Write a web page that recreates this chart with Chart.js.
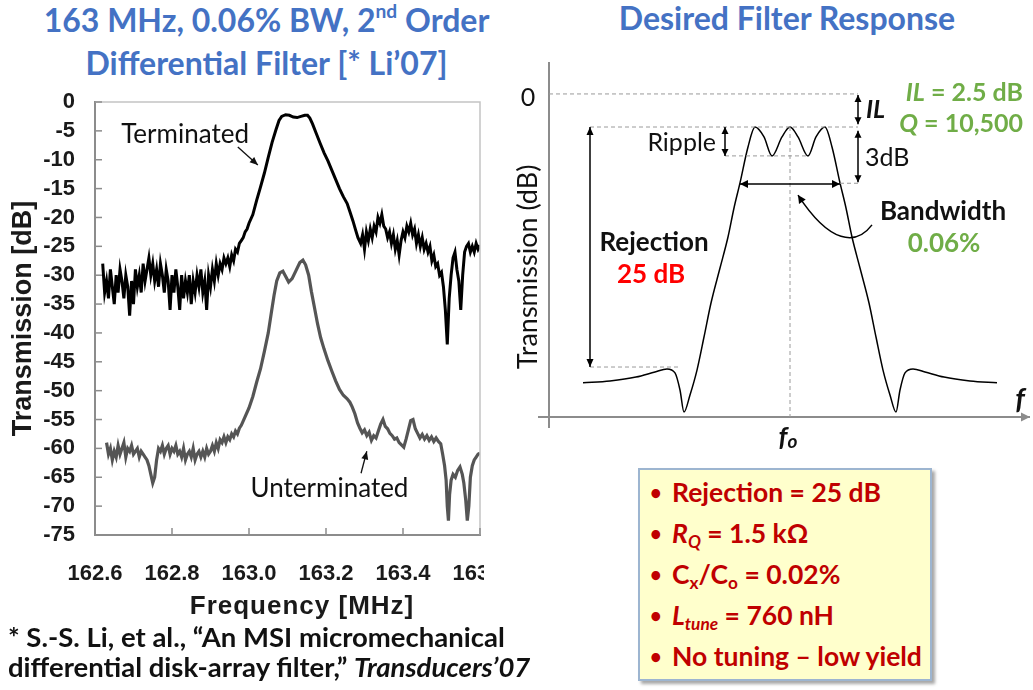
<!DOCTYPE html>
<html>
<head>
<meta charset="utf-8">
<script src="https://cdn.jsdelivr.net/npm/chart.js@4.4.1/dist/chart.umd.min.js"></script>
<style>
  html, body { margin: 0; padding: 0; background: #fff; }
  body { width: 1033px; height: 690px; position: relative; overflow: hidden; font-family: Lato, "Open Sans", sans-serif; }
  .title { position: absolute; color: #4472C4; font-weight: 700; font-size: 32px; line-height: 43px; text-align: center; white-space: nowrap; }
  .title sup { font-size: 60%; line-height: 0; vertical-align: baseline; position: relative; top: -0.75em; }
  #leftTitle { left: 0; top: -2px; width: 533px; }
  #rightTitle { left: 541px; top: -4px; width: 492px; }
  #measWrap { position: absolute; left: 0; top: 80px; width: 484px; height: 545px; }
  #respWrap { position: absolute; left: 500px; top: 40px; width: 533px; height: 420px; }
  #freqTitle { position: absolute; left: 152px; width: 300px; top: 590px; text-align: center; font: bold 26px "Liberation Sans", Arial, sans-serif; letter-spacing: 1px; color: #1a1a1a; }
  #footnote { position: absolute; left: 8px; top: 622px; font-weight: 700; font-size: 27.5px; line-height: 30px; color: #111; white-space: nowrap; }
  #specBox { position: absolute; left: 638px; top: 468px; width: 294px; height: 213px; background: #FFFFCC; border: 2px solid #9DB5D0; box-shadow: 3px 3px 3px rgba(0,0,0,0.35); padding: 2px 0 0 10px; box-sizing: border-box; color: #C00000; font-weight: 700; font-size: 26.5px; line-height: 41px; white-space: nowrap; }
  #specBox .dot { display: inline-block; width: 22px; font-size: 20px; vertical-align: 2px; }
  #specBox sub { font-size: 65%; line-height: 0; vertical-align: baseline; position: relative; top: 0.3em; }
</style>
</head>
<body>
<div id="leftTitle" class="title">163 MHz, 0.06% BW, 2<sup>nd</sup> Order<br>Differential Filter [* Li’07]</div>
<div id="rightTitle" class="title">Desired Filter Response</div>

<div id="measWrap"><canvas id="measChart" width="484" height="545"></canvas></div>
<div id="freqTitle">Frequency [MHz]</div>
<div id="respWrap"><canvas id="respChart" width="533" height="420"></canvas></div>

<div id="footnote">* S.-S. Li, et al., “An MSI micromechanical<br>differential disk-array filter,” <i>Transducers’07</i></div>

<div id="specBox">
  <div><span class="dot">•</span>Rejection = 25 dB</div>
  <div><span class="dot">•</span><i>R<sub>Q</sub></i> = 1.5 kΩ</div>
  <div><span class="dot">•</span>C<sub>x</sub>/C<sub>o</sub> = 0.02%</div>
  <div><span class="dot">•</span><i>L<sub>tune</sub></i> = 760 nH</div>
  <div><span class="dot">•</span>No tuning – low yield</div>
</div>

<script>
// measured transmission, [frequency MHz, dB]
const terminated = [
  [162.620,-28],[162.625,-33],[162.630,-31],[162.635,-34],[162.640,-29],[162.645,-32],[162.650,-35],[162.655,-30],
  [162.660,-33],[162.665,-29],[162.670,-31],[162.675,-34],[162.680,-30],[162.685,-32],[162.690,-37],[162.695,-31],
  [162.700,-35],[162.705,-29],[162.710,-32],[162.715,-30],[162.720,-33],[162.725,-28],[162.730,-31],[162.735,-29],
  [162.740,-27],[162.745,-30],[162.750,-28],[162.755,-31],[162.760,-29],[162.765,-32],[162.770,-28],[162.775,-30],
  [162.780,-33],[162.785,-29],[162.790,-31],[162.795,-36],[162.800,-30],[162.805,-33],[162.810,-29],[162.815,-32],
  [162.820,-36],[162.825,-30],[162.830,-34],[162.835,-31],[162.840,-33],[162.845,-30],[162.850,-35],[162.855,-31],
  [162.860,-33],[162.865,-30],[162.870,-32],[162.875,-29],[162.880,-33],[162.885,-31],[162.890,-36],[162.895,-30],
  [162.900,-32],[162.905,-29],[162.910,-31],[162.915,-28],[162.920,-30],[162.925,-28],[162.930,-29],[162.935,-27],
  [162.940,-28],[162.945,-27],[162.950,-28.5],[162.955,-26.5],[162.960,-27.5],[162.965,-25.5],[162.970,-26],[162.975,-24.5],
  [162.980,-24],[162.985,-23.5],[162.990,-22.5],[162.995,-22],[163.000,-21],[163.010,-19.5],[163.020,-17],[163.030,-14.7],
  [163.040,-12.3],[163.050,-9.6],[163.060,-7],[163.070,-4.8],[163.078,-3.2],[163.085,-2.5],[163.095,-2.2],[163.105,-2.3],
  [163.115,-2.6],[163.125,-2.7],[163.135,-2.5],[163.145,-2.3],[163.152,-2.3],[163.158,-2.8],[163.165,-3.8],[163.175,-5.5],
  [163.185,-7.2],[163.195,-8.8],[163.205,-10.2],[163.215,-11.8],[163.225,-13.4],[163.235,-15],[163.245,-16.4],[163.255,-17.6],
  [163.263,-19.2],[163.270,-20.6],[163.277,-22.2],[163.283,-23.5],
  [163.290,-24.5],[163.295,-23],[163.300,-25.5],[163.305,-22.5],[163.310,-24],[163.315,-22],[163.320,-23.5],[163.325,-21.5],
  [163.330,-22.5],[163.335,-20],[163.340,-21],[163.345,-19.5],[163.350,-21.5],[163.355,-22],[163.360,-23.5],[163.365,-22.5],
  [163.370,-24.5],[163.375,-23],[163.380,-25.5],[163.385,-24],[163.390,-26.5],[163.395,-24],[163.400,-22.5],[163.405,-23.5],
  [163.410,-21.5],[163.415,-22.5],[163.420,-21],[163.425,-23],[163.430,-22],[163.435,-24.5],[163.440,-23],[163.445,-25],
  [163.450,-23.5],[163.455,-25.5],[163.460,-24.5],[163.465,-26],[163.470,-25],[163.475,-27.5],[163.480,-26.5],[163.485,-28.5],
  [163.490,-28],[163.495,-30],[163.500,-29.5],[163.505,-32],[163.510,-36],[163.515,-42],[163.520,-34],[163.525,-30],
  [163.530,-27],[163.535,-26],[163.540,-29],[163.545,-31],[163.550,-36],[163.555,-30],[163.560,-26],[163.565,-25],
  [163.570,-24.5],[163.575,-26],[163.580,-25],[163.585,-26],[163.590,-24.5],[163.595,-25.5],[163.600,-24.8]
];

const unterminated = [
  [162.630,-59],[162.635,-61],[162.640,-60],[162.645,-62],[162.650,-60.5],[162.655,-61.5],[162.660,-59.5],[162.665,-61],
  [162.670,-60],[162.675,-59],[162.680,-61.5],[162.685,-60],[162.690,-60.5],[162.695,-59.5],[162.700,-61],[162.705,-60.5],
  [162.710,-60],[162.715,-61.5],[162.720,-60.5],[162.725,-61],[162.730,-61.5],[162.735,-62],[162.740,-63],[162.745,-64.5],
  [162.750,-66],[162.755,-65],[162.760,-62],[162.765,-60],[162.770,-60.5],[162.775,-59.5],[162.780,-61],[162.785,-60],
  [162.790,-59.5],[162.795,-61],[162.800,-60],[162.805,-60.5],[162.810,-59.5],[162.815,-61],[162.820,-60.5],[162.825,-61.5],
  [162.830,-60],[162.835,-62],[162.840,-61],[162.845,-60.5],[162.850,-61.5],[162.855,-60],[162.860,-62],[162.865,-61],
  [162.870,-60.5],[162.875,-61.5],[162.880,-60.5],[162.885,-61.5],[162.890,-60],[162.895,-61],[162.900,-60.5],[162.905,-59.5],
  [162.910,-60.5],[162.915,-59],[162.920,-60],[162.925,-58.5],[162.930,-59],[162.935,-58],
  [162.940,-59],[162.945,-58],[162.950,-58.5],[162.955,-57.5],[162.960,-58],[162.965,-57],[162.970,-57.5],[162.975,-56.5],
  [162.980,-56],[162.990,-54.5],[163.000,-53],[163.010,-51],[163.020,-48.5],[163.030,-46.2],[163.040,-43.2],[163.050,-40],
  [163.058,-36.5],[163.065,-33.5],[163.072,-31],[163.080,-29.6],[163.088,-29.3],[163.095,-30.2],[163.103,-31.2],[163.112,-30.6],
  [163.122,-29.2],[163.132,-27.8],[163.140,-27.4],[163.147,-28.2],[163.155,-30],[163.162,-32.8],[163.170,-35.6],[163.178,-38.4],
  [163.186,-40.8],[163.195,-42.8],[163.205,-44.8],[163.215,-46.6],[163.225,-48.3],[163.235,-49.8],[163.245,-50.8],[163.255,-51.4],
  [163.262,-52],[163.268,-52.8],[163.275,-54],[163.282,-55.6],[163.288,-56.5],[163.294,-57.3],[163.300,-56.8],[163.306,-57.8],
  [163.312,-57.2],[163.318,-58.6],[163.324,-57.8],[163.330,-58.2],[163.336,-57],[163.342,-55.8],[163.348,-55],[163.354,-56.2],
  [163.360,-56.6],[163.366,-57.4],[163.372,-57.8],[163.378,-58.4],[163.384,-58.2],[163.390,-59],[163.396,-59.4],[163.402,-59.8],
  [163.408,-58.4],[163.414,-56.8],[163.420,-55.2],[163.426,-55],[163.432,-56.6],[163.438,-57.4],[163.444,-58.2],[163.450,-57.6],
  [163.456,-58.4],[163.462,-57.8],[163.468,-58.6],[163.474,-58],[163.480,-58.8],[163.486,-58.2],[163.492,-58.8],[163.498,-59.2],
  [163.503,-61],[163.508,-63],[163.512,-65.5],[163.515,-70],[163.518,-72.5],[163.521,-68],[163.525,-65.5],[163.530,-64.5],
  [163.536,-65],[163.542,-63.8],[163.548,-63.2],[163.554,-64.5],[163.558,-66],[163.563,-69],[163.567,-72.5],[163.571,-70],
  [163.575,-65],[163.580,-63],[163.585,-62],[163.590,-61.5],[163.595,-61],[163.600,-60.8]
];

// idealised response sketch: offset from f0 and relative level in dB
const respFreq = [-2.07,-1.80,-1.54,-1.35,-1.23,-1.15,-1.10,-1.06,-1.00,-0.93,-0.86,-0.79,-0.70,-0.62,-0.56,-0.50,-0.42,-0.35,-0.26,-0.18,-0.08,
                  0,0.08,0.18,0.26,0.35,0.42,0.50,0.56,0.62,0.70,0.79,0.86,0.93,1.00,1.06,1.10,1.15,1.23,1.35,1.54,1.80,2.07];
const respDb = [-15.2,-15.1,-14.9,-14.63,-14.47,-14.68,-15.58,-16.74,-15.84,-14.53,-12.79,-11.0,-9.16,-7.53,-6.0,-4.68,-2.79,-1.74,-2.26,-3.26,-2.26,
                -1.74,-2.26,-3.26,-2.26,-1.74,-2.79,-4.68,-6.0,-7.53,-9.16,-11.0,-12.79,-14.53,-15.84,-16.74,-15.58,-14.68,-14.47,-14.63,-14.9,-15.1,-15.2];

const ilLevel = -1.74;      // passband peaks
const rippleLevel = -3.26;  // ripple troughs
const bwLevel = -4.7;       // 3 dB down
const floorLevel = -14.37;  // stopband reference

Chart.defaults.font.family = 'Lato, "Open Sans", sans-serif';

function arrowHead(ctx, x1, y1, x2, y2, len, half) {
  const a = Math.atan2(y2 - y1, x2 - x1), c = Math.cos(a), s = Math.sin(a);
  ctx.beginPath();
  ctx.moveTo(x2, y2);
  ctx.lineTo(x2 - len * c + half * s, y2 - len * s - half * c);
  ctx.lineTo(x2 - len * c - half * s, y2 - len * s + half * c);
  ctx.closePath();
  ctx.fill();
}
function arrow(ctx, x1, y1, x2, y2, both, len = 8, half = 4) {
  ctx.beginPath(); ctx.moveTo(x1, y1); ctx.lineTo(x2, y2); ctx.stroke();
  arrowHead(ctx, x1, y1, x2, y2, len, half);
  if (both) arrowHead(ctx, x2, y2, x1, y1, len, half);
}
// draw a line of mixed-style text; align is 'left' | 'center' | 'right'
function runs(ctx, parts, x, y, align) {
  let w = 0;
  parts.forEach(p => { ctx.font = p.font; w += ctx.measureText(p.text).width; });
  let cx = align === 'right' ? x - w : align === 'center' ? x - w / 2 : x;
  ctx.textAlign = 'left';
  parts.forEach(p => {
    ctx.font = p.font;
    ctx.fillText(p.text, cx, y + (p.dy || 0));
    cx += ctx.measureText(p.text).width;
  });
}

// frame, inward ticks and curve labels for the measured plot
const measDecor = {
  id: 'measDecor',
  afterDatasetsDraw(chart) {
    const { ctx, chartArea: a, scales: { x, y } } = chart;
    ctx.save();
    ctx.strokeStyle = '#c4c4c4'; ctx.lineWidth = 1.5;
    ctx.beginPath(); ctx.moveTo(a.left, a.top); ctx.lineTo(a.right, a.top); ctx.lineTo(a.right, a.bottom); ctx.stroke();
    ctx.strokeStyle = '#8c8c8c'; ctx.lineWidth = 1.5;
    x.ticks.forEach(t => { const px = x.getPixelForValue(t.value); ctx.beginPath(); ctx.moveTo(px, a.bottom); ctx.lineTo(px, a.bottom - 7); ctx.stroke(); });
    y.ticks.forEach(t => { const py = y.getPixelForValue(t.value); ctx.beginPath(); ctx.moveTo(a.left, py); ctx.lineTo(a.left + 7, py); ctx.stroke(); });

    ctx.fillStyle = '#111'; ctx.strokeStyle = '#111'; ctx.lineWidth = 1.3;
    ctx.font = '26px Lato';
    ctx.textAlign = 'center'; ctx.textBaseline = 'alphabetic';
    ctx.fillText('Terminated', x.getPixelForValue(162.834), y.getPixelForValue(-7.1));
    arrow(ctx, x.getPixelForValue(162.971), y.getPixelForValue(-7.8), x.getPixelForValue(163.023), y.getPixelForValue(-10.9), false, 8, 3.5);
    ctx.fillText('Unterminated', x.getPixelForValue(163.209), y.getPixelForValue(-68.4));
    arrow(ctx, x.getPixelForValue(163.291), y.getPixelForValue(-64.3), x.getPixelForValue(163.306), y.getPixelForValue(-60.5), false, 8, 3.5);
    ctx.restore();
  }
};

new Chart(document.getElementById('measChart'), {
  type: 'line',
  data: {
    datasets: [
      { label: 'Terminated', data: terminated.map(p => ({ x: p[0], y: p[1] })), borderColor: '#000', borderWidth: 3, pointRadius: 0, tension: 0 },
      { label: 'Unterminated', data: unterminated.map(p => ({ x: p[0], y: p[1] })), borderColor: '#555', borderWidth: 3.2, pointRadius: 0, tension: 0 }
    ]
  },
  options: {
    responsive: false, animation: false, events: [],
    layout: { padding: { top: 22, right: 4, left: 0, bottom: 0 } },
    plugins: { legend: { display: false }, tooltip: { enabled: false } },
    scales: {
      x: {
        type: 'linear', min: 162.6, max: 163.6,
        afterFit(s) { s.height = 90; s.paddingLeft = 0; s.paddingRight = 0; },
        ticks: { stepSize: 0.2, autoSkip: false, maxRotation: 0, padding: 26, color: '#1a1a1a',
                 font: { family: '"Liberation Sans", Arial, sans-serif', weight: 'bold', size: 22 },
                 callback: v => v.toFixed(1) },
        grid: { drawOnChartArea: false, drawTicks: false },
        border: { color: '#8c8c8c', width: 2 }
      },
      y: {
        min: -75, max: 0,
        afterFit(s) { s.width = 95; s.paddingTop = 0; s.paddingBottom = 0; },
        ticks: { stepSize: 5, autoSkip: false, padding: 20, color: '#1a1a1a',
                 font: { family: '"Liberation Sans", Arial, sans-serif', weight: 'bold', size: 22 } },
        grid: { drawOnChartArea: false, drawTicks: false },
        border: { color: '#8c8c8c', width: 2 },
        title: { display: true, text: 'Transmission [dB]', color: '#1a1a1a', padding: { top: 7, bottom: 0 },
                 font: { family: '"Liberation Sans", Arial, sans-serif', weight: 'bold', size: 27 } }
      }
    }
  },
  plugins: [measDecor]
});

// axes, guide lines, dimension arrows and labels for the response sketch
const respDecor = {
  id: 'respDecor',
  afterDraw(chart) {
    const { ctx, chartArea: a, scales: { x, y } } = chart;
    const X = v => x.getPixelForValue(v), Y = v => y.getPixelForValue(v);
    ctx.save();
    ctx.strokeStyle = '#8c8c8c'; ctx.fillStyle = '#8c8c8c'; ctx.lineWidth = 2;
    ctx.beginPath(); ctx.moveTo(a.left, a.top - 8); ctx.lineTo(a.left, a.bottom + 11); ctx.stroke();
    arrow(ctx, a.left - 11, a.bottom, a.right + 2, a.bottom, false, 9, 4.5);

    ctx.strokeStyle = '#9a9a9a'; ctx.lineWidth = 1; ctx.setLineDash([4, 3]);
    [[-2.41, 0, 0.68, 0], [-2.0, ilLevel, 0.68, ilLevel], [-0.65, rippleLevel, 0.18, rippleLevel],
     [0.50, bwLevel, 0.68, bwLevel], [0, ilLevel, 0, -17], [-2.0, floorLevel, -1.12, floorLevel]]
      .forEach(g => { ctx.beginPath(); ctx.moveTo(X(g[0]), Y(g[1])); ctx.lineTo(X(g[2]), Y(g[3])); ctx.stroke(); });
    ctx.setLineDash([]);

    ctx.strokeStyle = '#000'; ctx.fillStyle = '#000'; ctx.lineWidth = 1.5;
    arrow(ctx, X(0.68), Y(-0.05), X(0.68), Y(ilLevel + 0.15), true, 7, 3.5);
    arrow(ctx, X(0.68), Y(ilLevel - 0.2), X(0.68), Y(bwLevel + 0.05), true, 7, 3.5);
    arrow(ctx, X(-0.65), Y(ilLevel), X(-0.65), Y(rippleLevel), true, 7, 3.5);
    arrow(ctx, X(-2.0), Y(ilLevel), X(-2.0), Y(floorLevel), true, 8, 3.5);
    arrow(ctx, X(-0.50), Y(-4.74), X(0.50), Y(-4.74), true, 8, 4);
    // pointer from the Bandwidth label
    ctx.beginPath();
    ctx.moveTo(X(0.82), Y(-6.89));
    ctx.bezierCurveTo(X(0.66), Y(-8.0), X(0.40), Y(-7.9), X(0.08), Y(-5.32));
    ctx.stroke();
    arrowHead(ctx, X(0.40), Y(-7.9), X(0.08), Y(-5.32), 8, 4);

    ctx.textBaseline = 'middle';
    ctx.fillStyle = '#111';
    ctx.font = '25px Lato'; ctx.textAlign = 'center';
    ctx.fillText('0', X(-2.62), Y(-0.2));
    ctx.textAlign = 'right'; ctx.fillText('Ripple', X(-0.74), Y(-2.58));
    ctx.textAlign = 'left'; ctx.fillText('3dB', X(0.75), Y(-3.37));
    ctx.font = 'italic bold 25px Lato'; ctx.fillText('IL', X(0.76), Y(-0.84));
    ctx.save();
    ctx.translate(X(-2.62), Y(-9.1)); ctx.rotate(-Math.PI / 2);
    ctx.font = '27px Lato'; ctx.textAlign = 'center'; ctx.fillText('Transmission (dB)', 0, 0);
    ctx.restore();

    ctx.textAlign = 'center';
    ctx.font = 'bold 26px Lato'; ctx.fillStyle = '#111';
    ctx.fillText('Rejection', X(-1.36), Y(-7.84));
    ctx.fillText('Bandwidth', X(1.53), Y(-6.21));
    ctx.fillStyle = '#FF0000'; ctx.fillText('25 dB', X(-1.39), Y(-9.53));
    ctx.fillStyle = '#70AD47'; ctx.fillText('0.06%', X(1.54), Y(-7.89));
    runs(ctx, [{ text: 'IL', font: 'italic bold 25px Lato' }, { text: ' = 2.5 dB', font: 'bold 25px Lato' }], X(2.33), Y(0.05), 'right');
    runs(ctx, [{ text: 'Q', font: 'italic bold 25px Lato' }, { text: ' = 10,500', font: 'bold 25px Lato' }], X(2.33), Y(-1.58), 'right');

    ctx.fillStyle = '#111';
    runs(ctx, [{ text: 'f', font: 'italic bold 29px Lato' }], X(2.30), Y(-16.1), 'center');
    runs(ctx, [{ text: 'f', font: 'italic bold 27px Lato' }, { text: 'o', font: 'italic bold 19px Lato', dy: 5 }], X(-0.02), Y(-18.05), 'center');
    ctx.restore();
  }
};

new Chart(document.getElementById('respChart'), {
  type: 'line',
  data: {
    datasets: [{ data: respFreq.map((f, i) => ({ x: f, y: respDb[i] })), borderColor: '#000', borderWidth: 1.5,
                 pointRadius: 0, cubicInterpolationMode: 'monotone' }]
  },
  options: {
    responsive: false, animation: false, events: [],
    layout: { padding: { left: 49, right: 5, top: 30, bottom: 43 } },
    plugins: { legend: { display: false }, tooltip: { enabled: false } },
    scales: {
      x: { type: 'linear', min: -2.41, max: 2.38, display: false },
      y: { min: -17, max: 1.26, display: false }
    }
  },
  plugins: [respDecor]
});
</script>
</body>
</html>
